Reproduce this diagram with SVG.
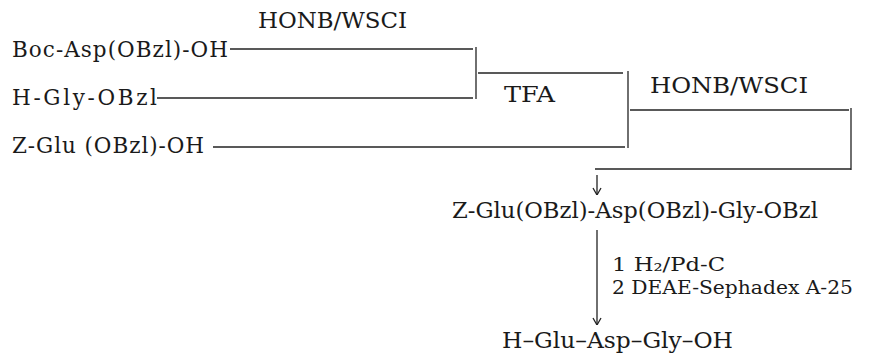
<svg xmlns="http://www.w3.org/2000/svg" width="888" height="355" viewBox="0 0 888 355">
<style>
text{font-family:"DejaVu Serif","Liberation Serif",serif;font-size:21.5px;fill:#1a1a1a}
.st{font-size:18.5px}
.ln{stroke:#222;stroke-width:1.3;fill:none}
</style>
<defs>
<marker id="ah" viewBox="0 0 10 10" refX="10" refY="5" markerWidth="10" markerHeight="10" markerUnits="userSpaceOnUse" orient="auto">
<path d="M3,1 L10,5 L3,9" fill="none" stroke="#222" stroke-width="1.3"/>
</marker>
</defs>
<rect width="888" height="355" fill="#fff"/>
<g id="reagent1"><text x="258" y="28" textLength="149" lengthAdjust="spacingAndGlyphs">HONB/WSCI</text></g>
<g id="bocasp"><text x="12" y="57" textLength="216" lengthAdjust="spacing">Boc-Asp(OBzl)-OH</text></g>
<g id="hgly"><text x="12" y="105" textLength="145" lengthAdjust="spacing">H-Gly-OBzl</text></g>
<g id="zglu"><text x="12" y="153" textLength="192" lengthAdjust="spacing">Z-Glu (OBzl)-OH</text></g>
<g id="tfa"><text x="504" y="102" textLength="51" lengthAdjust="spacingAndGlyphs">TFA</text></g>
<g id="reagent2"><text x="650" y="93" textLength="158" lengthAdjust="spacingAndGlyphs">HONB/WSCI</text></g>
<g id="protected"><text x="452" y="218" textLength="366" lengthAdjust="spacingAndGlyphs">Z-Glu(OBzl)-Asp(OBzl)-Gly-OBzl</text></g>
<g id="steps">
<text class="st" x="612" y="271" textLength="113" lengthAdjust="spacingAndGlyphs">1 H₂/Pd-C</text>
<text class="st" x="612" y="294" textLength="241" lengthAdjust="spacingAndGlyphs">2 DEAE-Sephadex A-25</text>
</g>
<g id="product"><text x="502" y="348" textLength="231" lengthAdjust="spacingAndGlyphs">H–Glu–Asp–Gly–OH</text></g>
<g id="connectors" class="ln">
<path class="ln" d="M230,49 H473"/>
<path class="ln" d="M157,98 H473"/>
<path class="ln" d="M476,47 V99"/>
<path class="ln" d="M478,73 H623"/>
<path class="ln" d="M213,147 H625"/>
<path class="ln" d="M628,71 V148"/>
<path class="ln" d="M630,110 H849"/>
<path class="ln" d="M851,108 V170"/>
<path class="ln" d="M595,169 H851"/>
<path class="ln" d="M597,175 V195" marker-end="url(#ah)"/>
<path class="ln" d="M597,230 V325" marker-end="url(#ah)"/>
</g>
</svg>
